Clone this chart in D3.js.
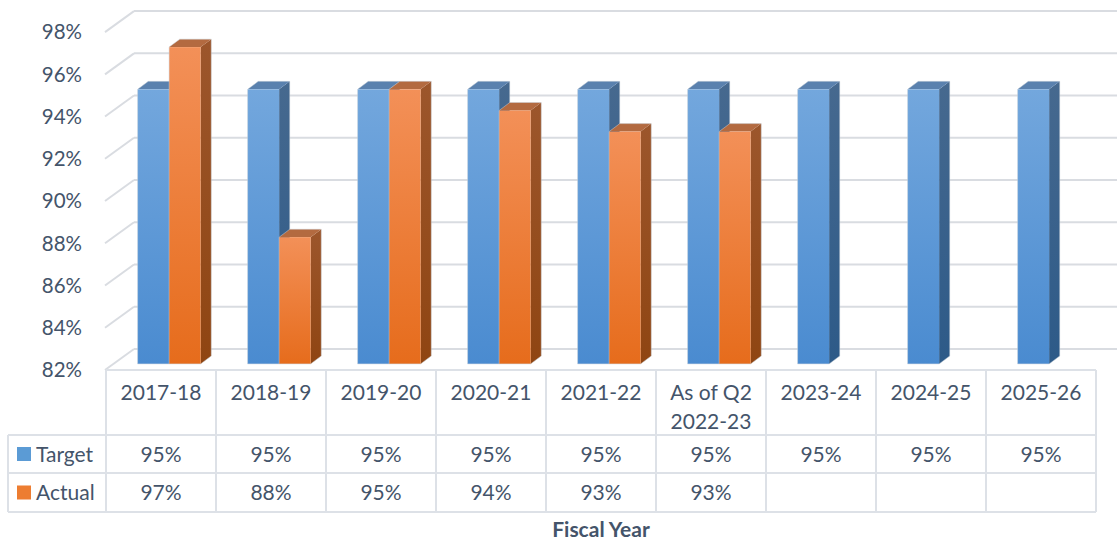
<!DOCTYPE html>
<html>
<head>
<meta charset="utf-8">
<style>
body {
  margin: 0;
  background: #fff;
  font-family: Lato, "Open Sans", sans-serif;
}
svg text {
  fill: #44546a;
}
.grid {
  stroke: #d9dce1;
  stroke-width: 2px;
  fill: none;
}
.tbl {
  stroke: #dde1e7;
  stroke-width: 2px;
  fill: none;
}
</style>
</head>
<body>
<script src="https://cdn.jsdelivr.net/npm/d3@7"></script>
<script>
// chart values
var categories = ["2017-18", "2018-19", "2019-20", "2020-21", "2021-22", "As of Q2|2022-23", "2023-24", "2024-25", "2025-26"];
var seriesNames = ["Target", "Actual"];
var target = [95, 95, 95, 95, 95, 95, 95, 95, 95];
var actual = [97, 88, 95, 94, 93, 93, null, null, null];
var yTicks = [82, 84, 86, 88, 90, 92, 94, 96, 98];

(function() {
  var W = 1117, H = 543,
      tableLeft = 106, tableRight = 1096,
      floorY = 370,          // front edge of the floor (82%)
      depth = [28, -21],     // full depth of the plot box
      barFront = 0.29,       // bar front face position in depth
      barBack = 0.67;

  var svg = d3.select("body").append("svg")
    .attr("width", W)
    .attr("height", H);

  var defs = svg.append("defs");
  function grad(id, top, bottom) {
    var g = defs.append("linearGradient").attr("id", id)
      .attr("x1", 0).attr("y1", 0).attr("x2", 0).attr("y2", 1);
    g.append("stop").attr("offset", "0%").attr("stop-color", top);
    g.append("stop").attr("offset", "100%").attr("stop-color", bottom);
  }
  grad("blueFront", "#73a7dd", "#4a8bd0");
  grad("blueSide", "#46698f", "#2d5a88");
  grad("orangeFront", "#f39058", "#e66c1c");
  grad("orangeSide", "#9c562c", "#8f4512");

  var colors = {
    Target: {front: "url(#blueFront)", side: "url(#blueSide)", top: "#5a81ae", key: "#5b9bd5"},
    Actual: {front: "url(#orangeFront)", side: "url(#orangeSide)", top: "#b36a40", key: "#ed7d31"}
  };

  // scales (front plane, depth 0)
  var y = d3.scaleLinear()
    .domain([82, 98])
    .range([floorY, floorY - 16 * 21.12]);

  var x0 = d3.scaleBand()
    .domain(categories)
    .range([tableLeft, tableRight]);

  var x1 = d3.scaleBand()
    .domain(seriesNames)
    .range([23.5, x0.bandwidth() - 23.5]);

  function dx(d) { return depth[0] * d; }
  function dy(d) { return depth[1] * d; }

  //
  // walls and gridlines
  //
  var gGrid = svg.append("g");
  yTicks.forEach(function(t) {
    var yf = y(t), yb = y(t) + dy(1);
    gGrid.append("line").attr("class", "grid")
      .attr("x1", tableLeft - 1).attr("y1", yf)
      .attr("x2", tableLeft + dx(1)).attr("y2", yb);
    gGrid.append("line").attr("class", "grid")
      .attr("x1", tableLeft + dx(1)).attr("y1", yb)
      .attr("x2", W + 5).attr("y2", yb);
  });

  // y axis labels
  svg.append("g").selectAll("text")
    .data(yTicks)
    .enter().append("text")
    .attr("x", 82)
    .attr("y", function(t) { return y(t); })
    .attr("dy", "0.36em")
    .attr("text-anchor", "end")
    .style("font-size", "20.5px")
    .text(function(t) { return t + "%"; });

  //
  // bars
  //
  var rows = [];
  categories.forEach(function(c, i) {
    rows.push({cat: c, s: "Target", v: target[i]});
    if (actual[i] != null) rows.push({cat: c, s: "Actual", v: actual[i]});
  });

  var gBars = svg.append("g");
  rows.forEach(function(r) {
    var xl = x0(r.cat) + x1(r.s) + dx(barFront),
        xr = xl + x1.bandwidth(),
        yt = y(r.v) + dy(barFront),
        yb = y(82) + dy(barFront),
        ox = dx(barBack - barFront),
        oy = dy(barBack - barFront),
        col = colors[r.s];
    var g = gBars.append("g");
    g.append("path")
      .attr("d", "M" + xr + "," + yt + "L" + (xr + ox) + "," + (yt + oy) +
        "L" + (xr + ox) + "," + (yb + oy) + "L" + xr + "," + yb + "Z")
      .attr("fill", col.side);
    g.append("path")
      .attr("d", "M" + xl + "," + yt + "L" + (xl + ox) + "," + (yt + oy) +
        "L" + (xr + ox) + "," + (yt + oy) + "L" + xr + "," + yt + "Z")
      .attr("fill", col.top);
    g.append("rect")
      .attr("x", xl).attr("y", yt)
      .attr("width", xr - xl).attr("height", yb - yt)
      .attr("fill", col.front);
    g.append("path")
      .attr("d", "M" + xl + "," + yb + "L" + xl + "," + yt + "L" + (xl + ox) + "," + (yt + oy) +
        "L" + (xr + ox) + "," + (yt + oy) + "L" + (xr + ox) + "," + (yb + oy) + "L" + xr + "," + yb + "Z")
      .attr("fill", "none")
      .attr("stroke", "#c9d1da")
      .attr("stroke-opacity", 0.6)
      .attr("stroke-width", 0.8);
  });

  //
  // data table
  //
  var rowTop = floorY, headerBottom = 435, targetBottom = 473, actualBottom = 512,
      legendLeft = 8;
  var gT = svg.append("g");
  // horizontal lines
  gT.append("line").attr("class", "tbl")
    .attr("x1", tableLeft).attr("x2", tableRight).attr("y1", rowTop).attr("y2", rowTop);
  [headerBottom, targetBottom, actualBottom].forEach(function(yy) {
    gT.append("line").attr("class", "tbl")
      .attr("x1", legendLeft).attr("x2", tableRight).attr("y1", yy).attr("y2", yy);
  });
  // vertical lines
  categories.forEach(function(c) {
    gT.append("line").attr("class", "tbl")
      .attr("x1", x0(c)).attr("x2", x0(c)).attr("y1", rowTop).attr("y2", actualBottom);
  });
  gT.append("line").attr("class", "tbl")
    .attr("x1", tableRight).attr("x2", tableRight).attr("y1", rowTop).attr("y2", actualBottom);
  gT.append("line").attr("class", "tbl")
    .attr("x1", legendLeft).attr("x2", legendLeft).attr("y1", headerBottom).attr("y2", actualBottom);

  // header labels
  categories.forEach(function(c) {
    var lines = c.split("|");
    var t = gT.append("text")
      .attr("text-anchor", "middle")
      .style("font-size", "21px");
    lines.forEach(function(l, k) {
      t.append("tspan")
        .attr("x", x0(c) + x0.bandwidth() / 2)
        .attr("y", 400 + k * 29)
        .text(l);
    });
  });

  // value rows
  var rowMid = {Target: (headerBottom + targetBottom) / 2, Actual: (targetBottom + actualBottom) / 2};
  var values = {Target: target, Actual: actual};
  seriesNames.forEach(function(s) {
    gT.append("rect")
      .attr("x", 17).attr("y", rowMid[s] - 7)
      .attr("width", 14).attr("height", 14)
      .attr("fill", colors[s].key);
    gT.append("text")
      .attr("x", 36).attr("y", rowMid[s])
      .attr("dy", "0.36em")
      .style("font-size", "21px")
      .text(s);
    categories.forEach(function(c, i) {
      if (values[s][i] == null) return;
      gT.append("text")
        .attr("x", x0(c) + x0.bandwidth() / 2)
        .attr("y", rowMid[s])
        .attr("dy", "0.36em")
        .attr("text-anchor", "middle")
        .style("font-size", "21px")
        .text(values[s][i] + "%");
    });
  });

  // axis title
  svg.append("text")
    .attr("x", (tableLeft + tableRight) / 2)
    .attr("y", 537)
    .attr("text-anchor", "middle")
    .style("font-size", "21px")
    .style("font-weight", "bold")
    .text("Fiscal Year");
})();
</script>
</body>
</html>
